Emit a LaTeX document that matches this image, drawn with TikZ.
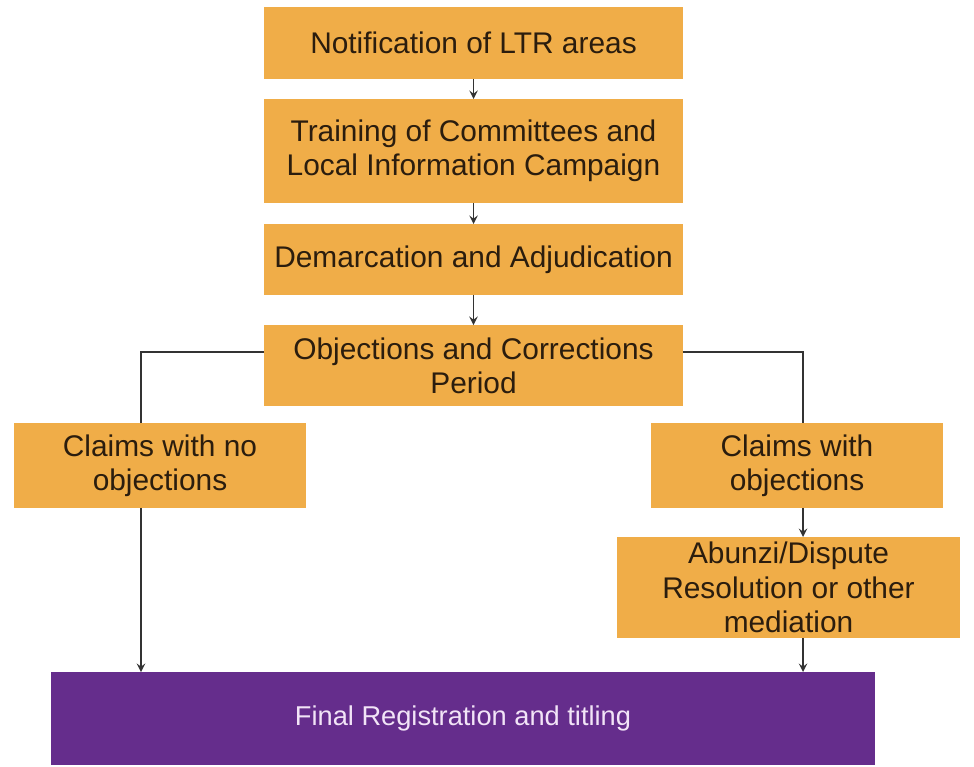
\documentclass[tikz,border=0pt]{standalone}
\usepackage{fontspec}
\setmainfont{Liberation Sans}
\usetikzlibrary{arrows}
\definecolor{boxorange}{HTML}{F0AD48}
\definecolor{boxpurple}{HTML}{652D8C}
\definecolor{linegray}{HTML}{333333}
\definecolor{txtdark}{HTML}{2B1D0E}
\definecolor{txtlight}{HTML}{F2E4F7}
\tikzstyle{arrow} = [line width=1.1pt,linegray,->,>=stealth]
\tikzstyle{link} = [line width=1.1pt,linegray]
\tikzstyle{stage} = [fill=boxorange, text=txtdark, align=center, inner sep=0pt,
	outer sep=0pt, font=\fontsize{17}{19.5}\selectfont]
\tikzstyle{result} = [stage, fill=boxpurple, text=txtlight, font=\fontsize{15.5}{19.5}\selectfont]

\begin{document}
\begin{tikzpicture}[x=0.02cm, y=-0.02cm]
	\useasboundingbox (0,0) rectangle (974,767);
	% main column
	\node[stage, minimum width=8.38cm, minimum height=1.44cm] (notif) at (473.5,43) {Notification of LTR areas};
	\node[stage, minimum width=8.38cm, minimum height=2.08cm] (train) at (473.5,151) {Training of Committees and\\Local Information Campaign};
	\node[stage, minimum width=8.38cm, minimum height=1.42cm] (demarc) at (473.5,259.5) {Demarcation and Adjudication};
	\node[stage, minimum width=8.38cm, minimum height=1.62cm] (obj) at (473.5,365.5) {Objections and Corrections\\Period};
	% branches
	\node[stage, minimum width=5.84cm, minimum height=1.7cm] (noobj) at (160,465.5) {Claims with no\\objections};
	\node[stage, minimum width=5.84cm, minimum height=1.7cm] (withobj) at (797,465.5) {Claims with\\objections};
	\node[stage, minimum width=6.86cm, minimum height=2.02cm] (abunzi) at (788.5,587.5) {Abunzi/Dispute\\Resolution or other\\mediation};
	\node[result, minimum width=16.48cm, minimum height=1.86cm] (final) at (463,718.5) {Final Registration and titling};

	\coordinate (lbend) at (141,352);
	\coordinate (rbend) at (803,352);

	\draw[arrow] (notif.south) -- (train.north);
	\draw[arrow] (train.south) -- (demarc.north);
	\draw[arrow] (demarc.south) -- (obj.north);
	\draw[link] (obj.west |- lbend) -- (lbend) -- (lbend |- noobj.north);
	\draw[link] (obj.east |- rbend) -- (rbend) -- (rbend |- withobj.north);
	\draw[arrow] (lbend |- noobj.south) -- (lbend |- final.north);
	\draw[arrow] (rbend |- withobj.south) -- (rbend |- abunzi.north);
	\draw[arrow] (rbend |- abunzi.south) -- (rbend |- final.north);
\end{tikzpicture}
\end{document}
